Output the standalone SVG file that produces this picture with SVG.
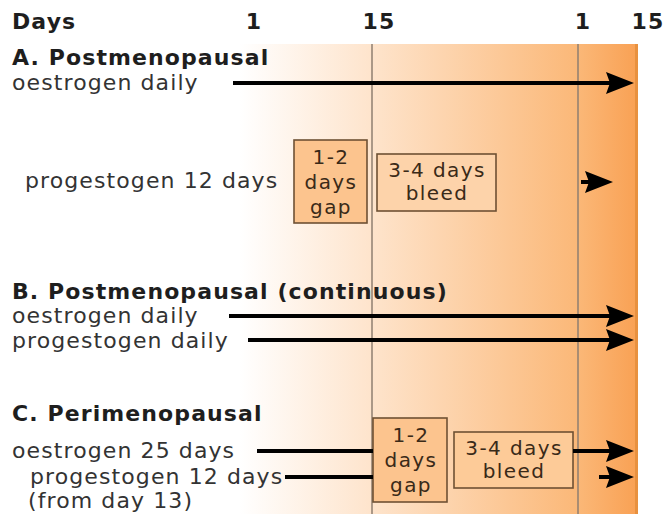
<svg xmlns="http://www.w3.org/2000/svg" width="664" height="514" viewBox="0 0 664 514">
<style>
.b{font-family:"DejaVu Sans",Verdana,sans-serif;font-weight:bold;font-size:22px;letter-spacing:1.1px;fill:#1e1e1e}
.r{font-family:"DejaVu Sans",Verdana,sans-serif;font-size:22px;letter-spacing:1.1px;fill:#333}
.bx{fill:#fcc48e;stroke:#6e5134;stroke-width:1.6}
.bt{font-family:"DejaVu Sans",Verdana,sans-serif;font-size:20px;letter-spacing:1.4px;fill:#3a2a18;text-anchor:middle}
.ar{stroke:#000;stroke-width:4;fill:none;marker-end:url(#ah)}
.vl{stroke:#8f7f70;stroke-width:1.5}
</style>
<defs>
<linearGradient id="bg" x1="240" y1="0" x2="637" y2="0" gradientUnits="userSpaceOnUse">
<stop offset="0" stop-color="#ffffff"/>
<stop offset="0.33" stop-color="#fee4cc"/>
<stop offset="0.85" stop-color="#fbb878"/>
<stop offset="1" stop-color="#f9a154"/>
</linearGradient>
<marker id="ah" markerUnits="userSpaceOnUse" markerWidth="28" markerHeight="22" refX="18" refY="11" orient="auto">
<path d="M0,0 L28,11 L0,22 L4,11 z" fill="#000"/>
</marker>
</defs>
<rect x="0" y="0" width="664" height="514" fill="#fff"/>
<g id="background">
<rect x="0" y="44" width="637" height="470" fill="url(#bg)"/>
<rect x="635" y="44" width="3" height="470" fill="#e8913f"/>
<line class="vl" x1="372" y1="44" x2="372" y2="514"/>
<line class="vl" x1="578" y1="44" x2="578" y2="514"/>
</g>
<g id="axis">
<text class="b" x="12" y="29">Days</text>
<text class="b" x="254" y="29" text-anchor="middle">1</text>
<text class="b" x="379" y="29" text-anchor="middle">15</text>
<text class="b" x="583" y="29" text-anchor="middle">1</text>
<text class="b" x="648" y="29" text-anchor="middle">15</text>
</g>
<g id="sectionA">
<text class="b" x="12" y="65">A. Postmenopausal</text>
<text class="r" x="12" y="90">oestrogen daily</text>
<text class="r" x="25" y="188">progestogen 12 days</text>
</g>
<g id="boxA1">
<rect class="bx" x="294" y="140" width="73" height="83"/>
<text class="bt" x="331" y="164">1-2</text>
<text class="bt" x="331" y="189">days</text>
<text class="bt" x="331" y="214">gap</text>
</g>
<g id="boxA2">
<rect class="bx" x="377" y="154" width="119" height="57" style="fill:#fdd3aa"/>
<text class="bt" x="437" y="177">3-4 days</text>
<text class="bt" x="437" y="200">bleed</text>
</g>
<g id="sectionB">
<text class="b" x="12" y="299">B. Postmenopausal (continuous)</text>
<text class="r" x="12" y="323">oestrogen daily</text>
<text class="r" x="12" y="348">progestogen daily</text>
</g>
<g id="sectionC">
<text class="b" x="12" y="421">C. Perimenopausal</text>
<text class="r" x="12" y="458">oestrogen 25 days</text>
<text class="r" x="30" y="484">progestogen 12 days</text>
<text class="r" x="28" y="508">(from day 13)</text>
</g>
<g id="boxC1">
<rect class="bx" x="373" y="418" width="74" height="84"/>
<text class="bt" x="411" y="442">1-2</text>
<text class="bt" x="411" y="467">days</text>
<text class="bt" x="411" y="492">gap</text>
</g>
<g id="boxC2">
<rect class="bx" x="454" y="432" width="119" height="56" style="fill:#fdcb98"/>
<text class="bt" x="514" y="455">3-4 days</text>
<text class="bt" x="514" y="478">bleed</text>
</g>
<g id="connectors">
<line class="ar" x1="233" y1="83" x2="624" y2="83"/>
<line class="ar" x1="581" y1="182" x2="603" y2="182"/>
<line class="ar" x1="229" y1="316" x2="624" y2="316"/>
<line class="ar" x1="248" y1="340" x2="624" y2="340"/>
<line stroke="#000" stroke-width="4" x1="257" y1="451" x2="373" y2="451"/>
<line stroke="#000" stroke-width="4" x1="285" y1="477" x2="373" y2="477"/>
<line class="ar" x1="573" y1="451" x2="624" y2="451"/>
<line class="ar" x1="599" y1="477" x2="624" y2="477"/>
</g>
</svg>
